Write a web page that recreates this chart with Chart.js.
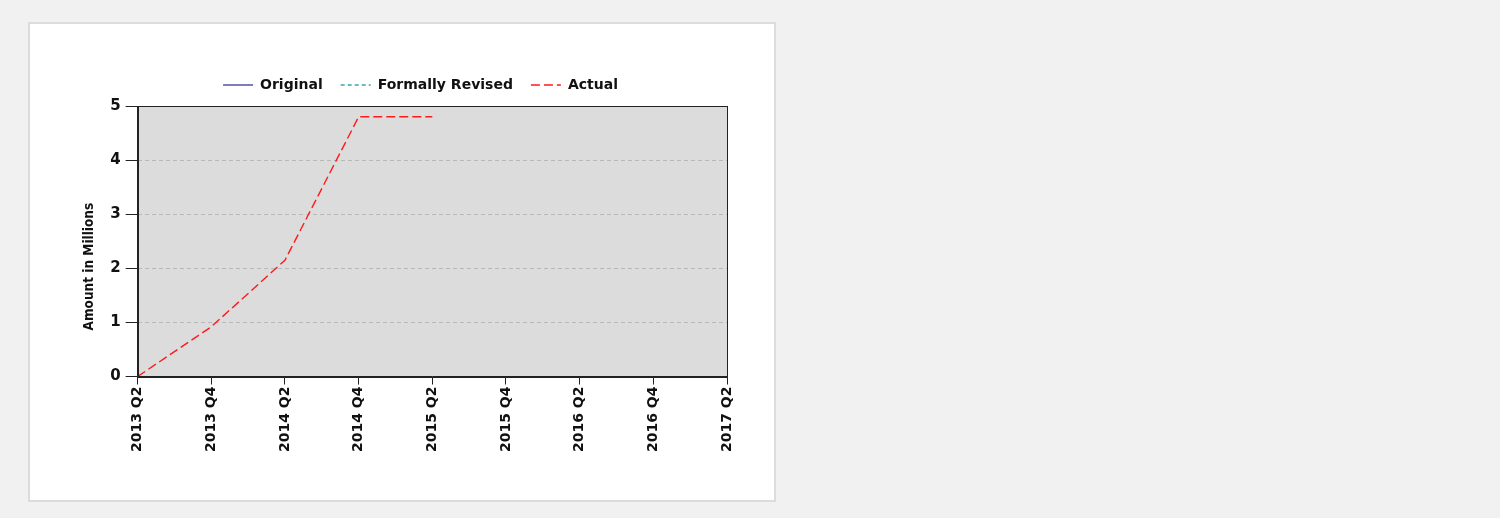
<!DOCTYPE html>
<html>
<head>
<meta charset="utf-8">
<script src="https://cdn.jsdelivr.net/npm/chart.js@4/dist/chart.umd.min.js"></script>
<style>
  html, body { margin: 0; padding: 0; background: #f1f1f1; }
  body { width: 1500px; height: 518px; position: relative; overflow: hidden; }
  .panel {
    position: absolute; left: 28px; top: 22px; width: 744px; height: 476px;
    background: #fff; border: 2px solid #dcdcdc;
  }
  .chart-box { position: absolute; left: 80px; top: 60px; width: 680px; height: 394px; }
</style>
</head>
<body>
<div class="panel"></div>
<div class="chart-box"><canvas id="chart"></canvas></div>
<script>
'use strict';

const quarters = ['2013 Q2', '2013 Q4', '2014 Q2', '2014 Q4', '2015 Q2',
                  '2015 Q4', '2016 Q2', '2016 Q4', '2017 Q2'];
const original = [null, null, null, null, null, null, null, null, null];
const revised  = [null, null, null, null, null, null, null, null, null];
const actual   = [0, 0.92, 2.15, 4.8, 4.8, null, null, null, null];
const yTicks   = [0, 1, 2, 3, 4, 5];

const LEGEND_HEIGHT = 46;
const LEGEND_SHIFT = 17;

// gray plot background and frame
const plotFrame = {
  id: 'plotFrame',
  beforeDraw(c) {
    const a = c.chartArea, ctx = c.ctx;
    ctx.save();
    ctx.fillStyle = '#dcdcdc';
    ctx.fillRect(a.left, a.top, a.right - a.left, a.bottom - a.top);
    ctx.restore();
  },
  afterDraw(c) {
    const a = c.chartArea, ctx = c.ctx;
    ctx.save();
    ctx.strokeStyle = '#222';
    ctx.lineWidth = 1;
    ctx.strokeRect(Math.round(a.left) + 0.5, Math.round(a.top) + 0.5,
                   Math.round(a.right - a.left), Math.round(a.bottom - a.top));
    ctx.restore();
  },
};

// legend sits a bit right of centre and closer to the plot than Chart.js puts it
const legendTweak = {
  id: 'legendTweak',
  afterInit(c) {
    const l = c.legend;
    const fit = l.fit;
    l.fit = function () { fit.call(this); this.height = LEGEND_HEIGHT; };
  },
  afterLayout(c) {
    c.legend.left += LEGEND_SHIFT;
    c.legend.right += LEGEND_SHIFT;
  },
};

new Chart(document.getElementById('chart').getContext('2d'), {
  type: 'line',
  data: {
    labels: quarters,
    datasets: [
      { label: 'Original', data: original, borderColor: '#4646a0', borderWidth: 1.4, pointRadius: 0 },
      { label: 'Formally Revised', data: revised, borderColor: '#3aa6a6', borderWidth: 1.4,
        borderDash: [4, 3], pointRadius: 0 },
      { label: 'Actual', data: actual, borderColor: '#ff1a1a', borderWidth: 1.4,
        borderDash: [9, 4], pointRadius: 0, tension: 0 },
    ],
  },
  options: {
    responsive: true,
    maintainAspectRatio: false,
    animation: false,
    layout: { padding: { left: 0, right: 33, top: 0, bottom: 0 } },
    plugins: {
      tooltip: { enabled: false },
      legend: {
        position: 'top',
        labels: {
          usePointStyle: true,
          pointStyle: 'line',
          pointStyleWidth: 30,
          boxHeight: 4,
          padding: 18,
          color: '#111',
          font: { family: 'DejaVu Sans', weight: 'bold', size: 14 },
          generateLabels: c => Chart.defaults.plugins.legend.labels.generateLabels(c).map(l => {
            const ds = c.data.datasets[l.datasetIndex];
            l.lineDash = ds.borderDash || [];
            l.lineWidth = ds.borderWidth;
            l.strokeStyle = ds.borderColor;
            return l;
          }),
        },
      },
    },
    scales: {
      x: {
        offset: false,
        grid: { drawOnChartArea: false, tickLength: 8, color: '#222' },
        border: { color: '#222' },
        ticks: {
          autoSkip: false, maxRotation: 90, minRotation: 90, padding: 2,
          color: '#111',
          font: { family: 'DejaVu Sans', weight: 'bold', size: 14 },
        },
      },
      y: {
        min: 0, max: 5,
        afterBuildTicks: s => { s.ticks = yTicks.map(v => ({ value: v })); },
        grid: { color: '#b8b8b8', tickColor: '#222', tickLength: 12 },
        border: { color: '#222', dash: [4, 3] },
        ticks: {
          padding: 5, color: '#111',
          font: { family: 'DejaVu Sans', weight: 'bold', size: 15 },
        },
        title: {
          display: true,
          text: 'Amount in Millions\u00a0\u00a0\u00a0\u00a0\u00a0\u00a0\u00a0\u00a0\u00a0\u00a0\u00a0\u00a0',
          color: '#111', padding: { top: 1, bottom: 8 },
          font: { family: 'DejaVu Sans Condensed', weight: 'bold', size: 13.5 },
        },
      },
    },
  },
  plugins: [plotFrame, legendTweak],
});
</script>
</body>
</html>
